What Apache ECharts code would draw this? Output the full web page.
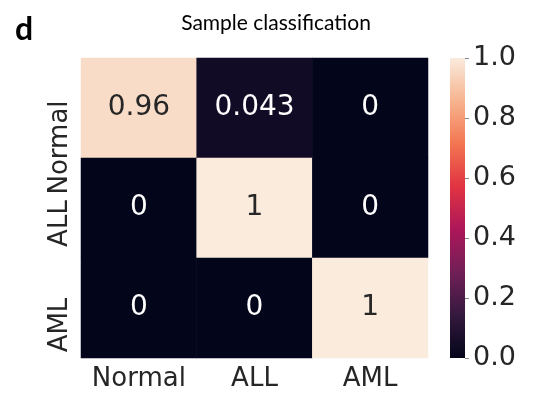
<!DOCTYPE html>
<html><head><meta charset="utf-8">
<script src="https://cdn.jsdelivr.net/npm/echarts@6/dist/echarts.min.js"></script>
<style>html,body{margin:0;padding:0;background:#fff}#c{width:552px;height:399px}</style>
</head><body><div id="c"></div>
<script>
const xCategories = ['Normal', 'ALL', 'AML'];
const yCategories = ['Normal', 'ALL', 'AML'];
// rows (true class) x columns (predicted)
const rowNormal = [0.96, 0.043, 0];
const rowALL = [0, 1, 0];
const rowAML = [0, 0, 1];
const colorbarTicks = [0, 0.2, 0.4, 0.6, 0.8, 1.0];
const titleText = 'Sample classification';
const panelLetter = 'd';

const rows = [rowNormal, rowALL, rowAML];
const rawData = [];
rows.forEach((r, yi) => r.forEach((v, xi) => rawData.push([xi, yi, v])));

const rocket = [
  [0, '#03051a'], [1/7, '#35193e'], [2/7, '#701f57'], [3/7, '#ad1759'],
  [4/7, '#e13342'], [5/7, '#f37651'], [6/7, '#f6b48f'], [1, '#faebdd']
];
const FONT = 'DejaVu Sans';
const data = rawData.map(d => ({
  value: d,
  label: { show: true, fontFamily: FONT, fontSize: 28,
           color: d[2] > 0.5 ? '#262626' : '#ffffff' }
}));

// y tick labels sit lower than the row centres in the reference
const yLabelStyle = (rp) => ({ fontFamily: FONT, fontSize: 26, color: '#262626', padding: [0, rp, 0, 0] });

const chart = echarts.init(document.getElementById('c'));
chart.setOption({
  animation: false,
  textStyle: { fontFamily: FONT },
  title: [
    { text: titleText, left: 271, top: 8, textAlign: 'center',
      textStyle: { fontFamily: 'Lato', fontWeight: 'normal', fontSize: 21, color: '#000' } },
    { text: panelLetter, left: 10, top: 9,
      textStyle: { fontFamily: 'Lato', fontWeight: 'bold', fontSize: 32, color: '#000' } }
  ],
  grid: [
    { left: 81, top: 58, width: 347, height: 300 },
    { left: 450, top: 58, width: 15, height: 300 }
  ],
  xAxis: [
    { type: 'category', data: xCategories, gridIndex: 0,
      axisLine: { show: false }, axisTick: { show: false }, splitArea: { show: false },
      axisLabel: { fontFamily: FONT, fontSize: 26, color: '#262626', margin: 8, interval: 0 } },
    { type: 'category', data: ['cb'], gridIndex: 1, show: false }
  ],
  yAxis: [
    { type: 'category', data: yCategories, gridIndex: 0, inverse: true,
      axisLine: { show: false }, axisTick: { show: false },
      axisLabel: { fontFamily: FONT, fontSize: 26, color: '#262626', rotate: 90, margin: 8, interval: 0,
        align: 'center',
        formatter: (v, i) => '{r' + i + '|' + v + '}',
        rich: { r0: yLabelStyle(79), r1: yLabelStyle(31), r2: yLabelStyle(34) } } },
    { type: 'value', gridIndex: 1, min: 0, max: 1, interval: 0.2, position: 'right',
      splitLine: { show: false }, axisLine: { show: false },
      axisTick: { show: true, length: 4, lineStyle: { color: '#888' } },
      axisLabel: { fontFamily: FONT, fontSize: 27, color: '#262626', margin: 8,
        formatter: v => v.toFixed(1) } }
  ],
  visualMap: {
    show: false, min: 0, max: 1, seriesIndex: 0,
    inRange: { color: rocket.map(s => s[1]) }
  },
  series: [
    { type: 'heatmap', xAxisIndex: 0, yAxisIndex: 0, data: data,
      label: { show: true, fontFamily: FONT, fontSize: 28,
        formatter: p => String(p.value[2]) },
      itemStyle: { borderWidth: 0 } },
    { type: 'bar', xAxisIndex: 1, yAxisIndex: 1, data: [1], barWidth: '100%',
      itemStyle: { color: new echarts.graphic.LinearGradient(0, 1, 0, 0,
        rocket.map(s => ({ offset: s[0], color: s[1] }))) } }
  ]
});
</script></body></html>
